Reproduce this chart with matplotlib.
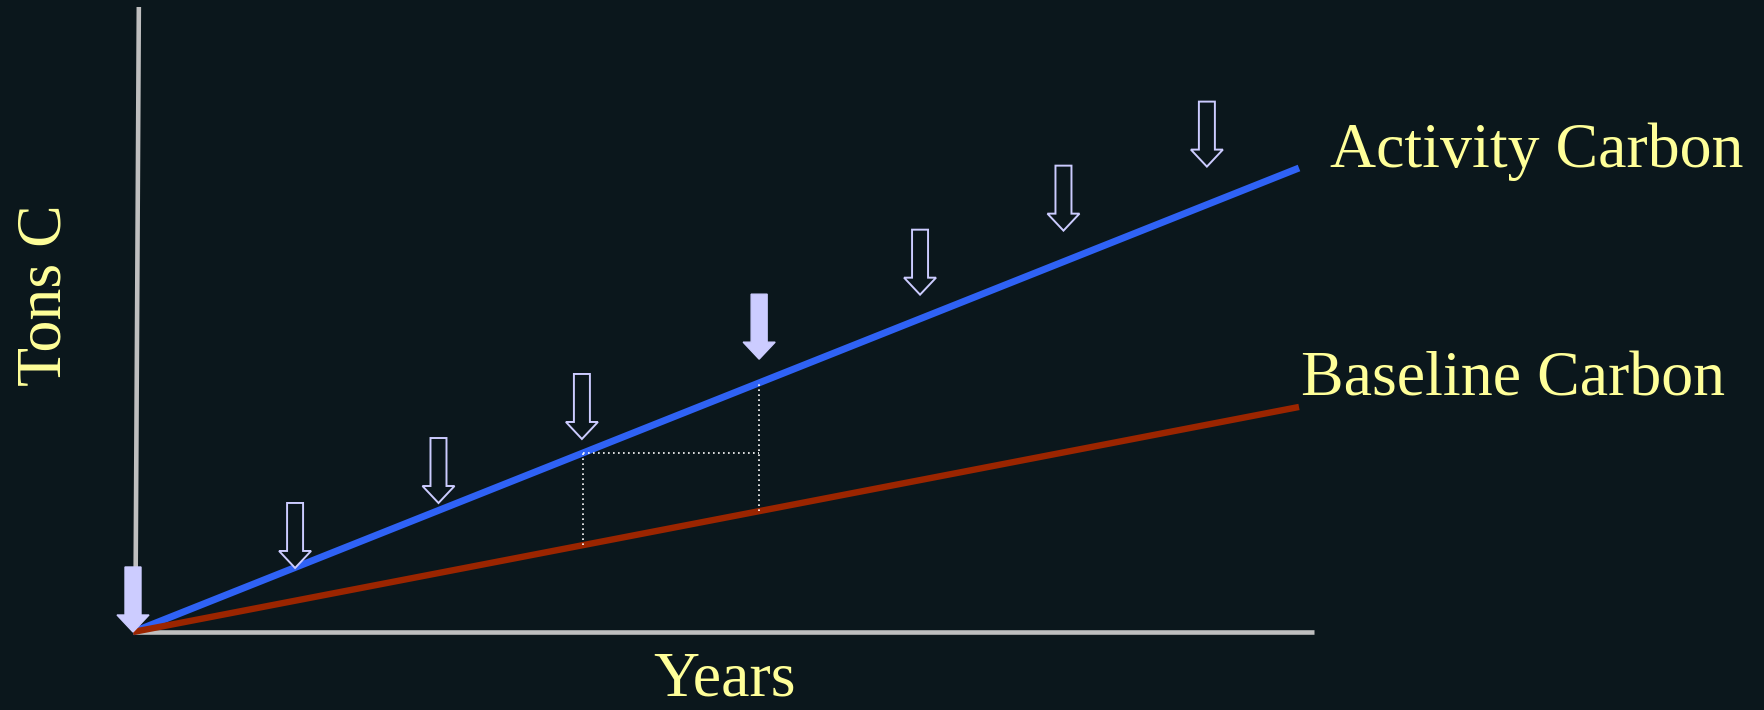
import matplotlib
matplotlib.use("Agg")
import matplotlib.pyplot as plt
from matplotlib.patches import Polygon

# conceptual chart: years on x, tons of carbon on y
years_end = 10.0
activity_end = 100.0
baseline_end = 48.5
# outlined arrows (year, tip height)
arrow_years = [1.39, 2.62, 3.85, 6.75, 7.98, 9.21]
arrow_tips = [13.8, 27.8, 41.6, 72.7, 86.5, 100.3]
# solid arrows
filled_arrow_years = [0.0, 5.37]
filled_arrow_tips = [0.0, 58.8]
dotted_years = [3.86, 5.37]

bg = '#0b171c'
text_col = '#ffff99'
arrow_col = '#ccccff'

px_x = 116.6   # pixels per year
px_y = 4.64    # pixels per ton


def activity(x):
    return activity_end * x / years_end


def baseline(x):
    return baseline_end * x / years_end


def arrow(x, tip_y, filled, ax):
    sw = 8 / px_x
    hw = 16 / px_x
    hl = 17 / px_y
    h = 65 / px_y
    pts = [(x - sw, tip_y + h), (x + sw, tip_y + h), (x + sw, tip_y + hl),
           (x + hw, tip_y + hl), (x, tip_y), (x - hw, tip_y + hl), (x - sw, tip_y + hl)]
    if filled:
        p = Polygon(pts, closed=True, facecolor=arrow_col, edgecolor=arrow_col, lw=1, zorder=5)
    else:
        p = Polygon(pts, closed=True, facecolor=bg, edgecolor=arrow_col, lw=1.4, zorder=5)
    ax.add_patch(p)


fig = plt.figure(figsize=(17.64, 7.10), dpi=100, facecolor=bg)
ax = fig.add_axes([0, 0, 1, 1])
ax.set_facecolor(bg)
ax.set_xlim(-133 / px_x, (1764 - 133) / px_x)
ax.set_ylim(-78 / px_y, 632 / px_y)
ax.axis('off')

# axes lines
ax.plot([0.02, 0.05], [0, 625 / px_y], color='#bfbfbf', lw=3.3, solid_capstyle='butt', zorder=2)
ax.plot([0, 1181 / px_x], [0, 0], color='#bfbfbf', lw=3.3, solid_capstyle='butt', zorder=2)

# lines
ax.plot([0, years_end], [0, activity(years_end)], color='#2f62f5', lw=5, solid_capstyle='butt', zorder=3)
ax.plot([0, years_end], [0, baseline(years_end)], color='#9b2500', lw=4.6, solid_capstyle='butt', zorder=3)

# dotted guides
xa, xb = dotted_years
ax.plot([xa, xa], [baseline(xa), activity(xa)], color='white', lw=1.2, ls=(0, (1, 2)), zorder=4)
ax.plot([xa, xb], [activity(xa), activity(xa)], color='white', lw=1.2, ls=(0, (1, 2)), zorder=4)
ax.plot([xb, xb], [baseline(xb), activity(xb)], color='white', lw=1.2, ls=(0, (1, 2)), zorder=4)

for x, t in zip(arrow_years, arrow_tips):
    arrow(x, t, False, ax)
for x, t in zip(filled_arrow_years, filled_arrow_tips):
    arrow(x, t, True, ax)

font = dict(family=['Liberation Serif', 'DejaVu Serif'], color=text_col, fontsize=46)
ax.text((1330 - 133) / px_x, (632 - 152) / px_y, 'Activity Carbon', ha='left', va='center', **font)
ax.text((1301 - 133) / px_x, (632 - 380) / px_y, 'Baseline Carbon', ha='left', va='center', **font)
ax.text((725 - 133) / px_x, (632 - 680) / px_y, 'Years', ha='center', va='center', **font)
ax.text((46 - 133) / px_x, (632 - 295) / px_y, 'Tons C', ha='center', va='center', rotation=90, **font)

fig.savefig('out.png', dpi=100, facecolor=bg)
